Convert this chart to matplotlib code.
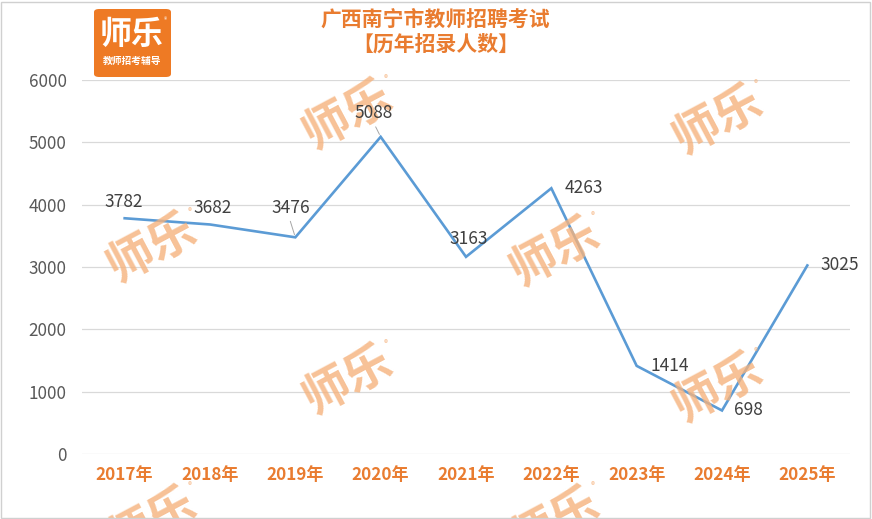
import matplotlib
matplotlib.use("Agg")
import matplotlib.pyplot as plt
from matplotlib.patches import FancyBboxPatch, Rectangle

plt.rcParams['font.family'] = ['Noto Sans CJK SC', 'DejaVu Sans']

years = ["2017年", "2018年", "2019年", "2020年", "2021年", "2022年", "2023年", "2024年", "2025年"]
values = [3782, 3682, 3476, 5088, 3163, 4263, 1414, 698, 3025]
yticks = [0, 1000, 2000, 3000, 4000, 5000, 6000]
title_line1 = "广西南宁市教师招聘考试"
title_line2 = "【历年招录人数】"

# label offsets in pixels (dx, dy) and alignment
label_pos = [(-1, 7, 'center'), (3, 7, 'center'), (-5, 20, 'center'), (-7, 15, 'center'),
             (3, 9, 'center'), (13, 0, 'left'), (14, 0, 'left'), (12, 0, 'left'), (13, 0, 'left')]

orange = '#E97C30'
W, H = 872, 519
fig = plt.figure(figsize=(W / 100, H / 100), dpi=100)
ax = fig.add_axes([82 / W, 1 - 454 / H, (850 - 82) / W, (454 - 80) / H])

x = list(range(len(years)))
ax.plot(x, values, color='#5B9BD5', lw=1.9, zorder=3, solid_joinstyle='miter')
ax.set_xlim(-0.5, len(years) - 0.5)
ax.set_ylim(0, 6000)
ax.set_yticks(yticks)
ax.set_yticklabels([str(v) for v in yticks], fontsize=12.3, color='#595959')
ax.set_xticks(x)
ax.set_xticklabels(years, fontsize=12.3, color=orange, fontweight='bold')
ax.tick_params(axis='both', length=0)
ax.tick_params(axis='y', pad=11)
ax.tick_params(axis='x', pad=9)
ax.grid(axis='y', color='#D9D9D9', lw=0.9)
ax.set_axisbelow(True)
for s in ax.spines.values():
    s.set_visible(False)

for i, (v, (dx, dy, ha)) in enumerate(zip(values, label_pos)):
    va = 'bottom' if ha == 'center' else 'center'
    ax.annotate(str(v), (i, v), xytext=(dx, dy), textcoords='offset pixels', ha=ha, va=va,
                fontsize=12.5, color='#404040', zorder=5)

# leader lines for 3476 and 5088
for i, (dx1, dy1) in [(2, (-5, 16)), (3, (-5, 10))]:
    ax.annotate('', (i, values[i]), xytext=(dx1, dy1), textcoords='offset pixels',
                arrowprops=dict(arrowstyle='-', color='#A6A6A6', lw=0.7, shrinkA=0, shrinkB=2))

# title
fig.text(435.5 / W, 1 - 19 / H, title_line1, ha='center', va='center', fontsize=15,
         fontweight='bold', color=orange)
fig.text(435.5 / W, 1 - 44 / H, title_line2, ha='center', va='center', fontsize=15,
         fontweight='bold', color=orange)

# logo
logo = FancyBboxPatch((94 / W, 1 - 77 / H), (171 - 94) / W, (77 - 9) / H,
                      boxstyle='round,pad=0,rounding_size=0.006', transform=fig.transFigure,
                      facecolor='#EE7A24', edgecolor='none')
fig.patches.append(logo)
fig.text(132 / W, 1 - 35 / H, "师乐", ha='center', va='center', fontsize=23,
         fontweight='heavy', color='white')
fig.text(132 / W, 1 - 61 / H, "教师招考辅导", ha='center', va='center', fontsize=7,
         fontweight='bold', color='white')
fig.text(165 / W, 1 - 20 / H, "®", ha='center', va='center', fontsize=5, color='white')

# watermarks (above the line, below the data labels)
wm_centers = [(152, 248), (348, 115), (555, 252), (718, 120), (348, 380), (718, 388),
              (152, 522), (555, 522)]
for cx, cy in wm_centers:
    ax.text(cx / W, 1 - cy / H, "师乐", transform=fig.transFigure, ha='center', va='center',
            fontsize=34, fontweight='heavy', color='#F5B27C', alpha=0.8, rotation=28,
            rotation_mode='anchor', zorder=4, clip_on=False)
    ax.text((cx + 38) / W, 1 - (cy - 36) / H, "®", transform=fig.transFigure, ha='center',
            va='center', fontsize=6, color='#F5B27C', alpha=0.8, zorder=4, clip_on=False)

# border
fig.patches.append(Rectangle((0.5 / W, 1.5 / H), (W - 3) / W, (H - 3) / H,
                             transform=fig.transFigure, fill=False, edgecolor='#D0D0D0', lw=1))

fig.savefig('out.png', dpi=100)
